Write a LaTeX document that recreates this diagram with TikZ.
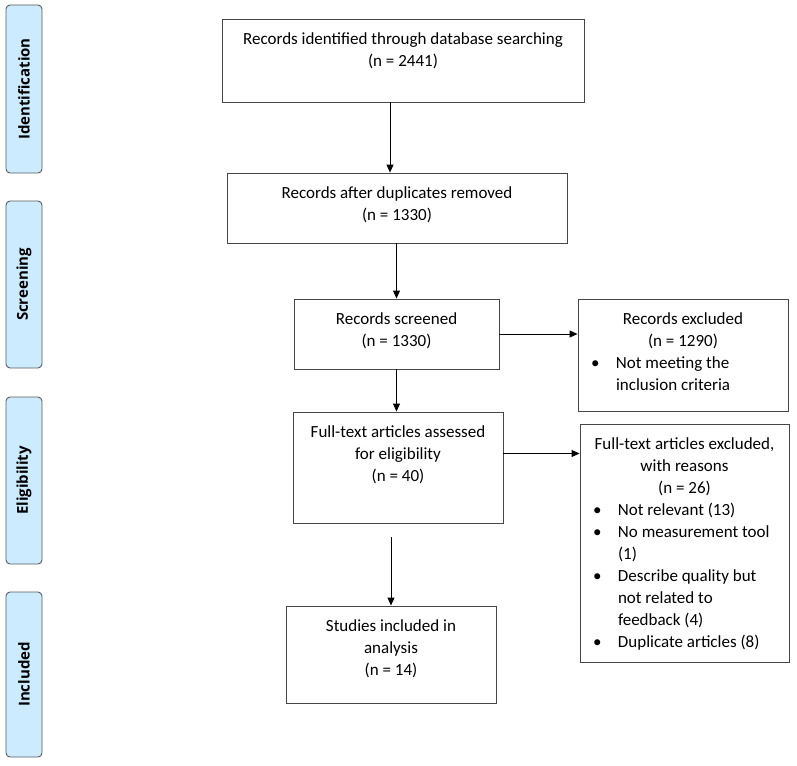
\documentclass[tikz,border=0pt]{standalone}
\usepackage{fontspec}
\setmainfont{Carlito}
\newfontfamily\tabfont{Open Sans}
\usetikzlibrary{arrows.meta}

\definecolor{tabblue}{RGB}{204,235,255}
\definecolor{tabedge}{RGB}{90,90,90}
\definecolor{boxedge}{RGB}{70,70,70}

% box text: width, height, lines (top aligned)
\newcommand{\flowbody}[3]{\parbox[c][#2][t]{#1}{\centering\vspace*{13.5pt}#3}}
% bullet line inside a box
\newcommand{\flowitem}[1]{\par\raggedright\rightskip=14pt plus 1fil\noindent\hangindent=38pt\hspace*{13pt}\makebox[25pt][l]{\textbullet}#1\par}

\begin{document}
\begin{tikzpicture}[
        x=1pt, y=-1pt,
        phase/.style={rectangle, draw=tabedge, fill=tabblue, line width=0.9pt, rounded corners=4pt,
            minimum height=36pt, inner sep=0pt, rotate=90, font=\tabfont\bfseries\fontsize{15}{18}\selectfont},
        flow/.style={rectangle, draw=boxedge, line width=0.9pt, inner sep=0pt,
            font=\fontsize{17}{22}\selectfont},
        arr/.style={-{Triangle[length=8pt, width=7pt]}, line width=0.9pt, black}
    ]
    \useasboundingbox (0,0) rectangle (797,765);

    % Phases
    \node[phase, minimum width=168pt] (identification) at (24, 89) {Identification};
    \node[phase, minimum width=167pt] (screening) at (24, 284.5) {Screening};
    \node[phase, minimum width=167pt] (eligibility) at (24, 480.5) {Eligibility};
    \node[phase, minimum width=165pt] (included) at (24, 674.5) {Included};

    % Records
    \node[flow] (identified) at (403, 60.5) {\flowbody{362pt}{83pt}{
        Records identified through database searching\\
        (n = 2441)}};
    \node[flow] (dedup) at (397, 208) {\flowbody{340pt}{70pt}{
        Records after duplicates removed\\
        (n = 1330)}};
    \node[flow] (screened) at (396.5, 334) {\flowbody{205pt}{70pt}{
        Records screened\\
        (n = 1330)}};
    \node[flow] (excluded) at (683, 355) {\flowbody{210pt}{112pt}{
        Records excluded\\
        (n = 1290)
        \flowitem{Not meeting the inclusion criteria}}};

    % Full texts
    \node[flow] (assessed) at (398, 467.5) {\flowbody{210pt}{111pt}{
        Full-text articles assessed\\
        for eligibility\\
        (n = 40)}};
    \node[flow] (ftexcluded) at (684.5, 543) {\flowbody{209pt}{238pt}{
        Full-text articles excluded,\\
        with reasons\\
        (n = 26)
        \flowitem{Not relevant (13)}
        \flowitem{No measurement tool (1)}
        \flowitem{Describe quality but not related to feedback (4)}
        \flowitem{Duplicate articles (8)}}};

    % Studies
    \node[flow] (studies) at (391, 654.5) {\flowbody{210pt}{97pt}{
        Studies included in\\
        analysis\\
        (n = 14)}};

    % Arrows
    \coordinate (idout) at ([xshift=-13pt]identified.south);
    \draw[arr] (idout) -- (idout |- dedup.north);
    \draw[arr] (dedup.south -| screened.north) -- (screened.north);
    \draw[arr] (screened.east) -- (screened.east -| excluded.west);
    \draw[arr] (screened.south) -- (screened.south |- assessed.north);
    \coordinate (asout) at ([yshift=14pt]assessed.east);
    \draw[arr] (asout) -- (asout -| ftexcluded.west);
    \draw[arr, shorten <=14pt] (assessed.south -| studies.north) -- (studies.north);

\end{tikzpicture}
\end{document}
